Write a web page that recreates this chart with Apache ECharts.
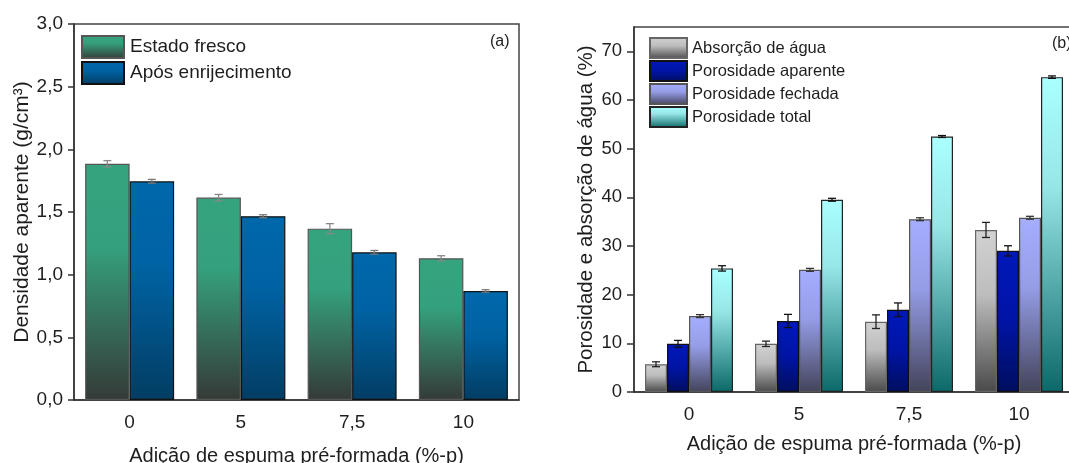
<!DOCTYPE html>
<html>
<head>
<meta charset="utf-8">
<script src="https://cdn.jsdelivr.net/npm/echarts@6/dist/echarts.min.js"></script>
<style>
html,body{margin:0;padding:0;background:#fff;}
#chart{width:1069px;height:463px;}
</style>
</head>
<body>
<div id="chart"></div>
<script>
// ---- Data ----
const categories = ['0', '5', '7,5', '10'];

// Panel (a): apparent density (g/cm³)
const densFresh = [1.885, 1.615, 1.367, 1.131];
const densFreshErr = [0.025, 0.025, 0.04, 0.02];
const densHard = [1.745, 1.466, 1.178, 0.870];
const densHardErr = [0.015, 0.012, 0.015, 0.01];

// Panel (b): porosity & water absorption (%)
const absorcao = [5.7, 9.9, 14.45, 33.3];
const absorcaoErr = [0.5, 0.55, 1.4, 1.55];
const porAparente = [9.9, 14.6, 16.9, 29.0];
const porAparenteErr = [0.7, 1.35, 1.4, 1.05];
const porFechada = [15.6, 25.1, 35.5, 35.8];
const porFechadaErr = [0.3, 0.3, 0.3, 0.3];
const porTotal = [25.4, 39.5, 52.5, 64.7];
const porTotalErr = [0.55, 0.3, 0.2, 0.25];

const yTicksA = [0, 0.5, 1, 1.5, 2, 2.5, 3];
const yTicksB = [0, 10, 20, 30, 40, 50, 60, 70];
const yMinorB = [5, 15, 25, 35, 45, 55, 65];

// ---- Helpers ----
const FONT = 'Liberation Sans, Arial, sans-serif';
const TXT = '#1e1e1e';
function grad(stops) {
  return {type: 'linear', x: 0, y: 0, x2: 0, y2: 1,
    colorStops: stops.map(s => ({offset: s[0], color: s[1]}))};
}
function makeErr(k, n, color) {
  return function (params, api) {
    const ci = api.value(0), v = api.value(1), e = api.value(2);
    const band = api.size([1, 0])[0];
    const bw = band * 0.8 / n;
    const c = api.coord([ci, v]);
    const x = c[0] - band * 0.4 + bw * (k + 0.5);
    const yt = api.coord([ci, v + e])[1];
    const yb = api.coord([ci, v - e])[1];
    const hw = 4;
    const st = {stroke: color, lineWidth: 1.3};
    return {type: 'group', children: [
      {type: 'line', shape: {x1: x, y1: yt, x2: x, y2: yb}, style: st},
      {type: 'line', shape: {x1: x - hw, y1: yt, x2: x + hw, y2: yt}, style: st},
      {type: 'line', shape: {x1: x - hw, y1: yb, x2: x + hw, y2: yb}, style: st}
    ]};
  };
}
function errData(vals, errs) {
  return vals.map((v, i) => [i, v, errs[i]]);
}
function barSeries(name, data, color, border, xi, yi) {
  return {
    name: name, type: 'bar', data: data, xAxisIndex: xi, yAxisIndex: yi,
    barGap: '0%', barCategoryGap: '20%',
    itemStyle: {color: color, borderColor: border, borderWidth: 1.2},
    emphasis: {disabled: true}, animation: false
  };
}
function errSeries(vals, errs, k, n, color, xi, yi) {
  return {
    type: 'custom', xAxisIndex: xi, yAxisIndex: yi, z: 5,
    data: errData(vals, errs), encode: {x: 0, y: 1},
    renderItem: makeErr(k, n, color), animation: false, silent: true
  };
}

const gFresh = grad([[0, '#36A37F'], [0.35, '#35A07D'], [1, '#353A37']]);
const gHard = grad([[0, '#0068AB'], [0.4, '#0062A2'], [1, '#023D63']]);
const gGray = grad([[0, '#D2D2D2'], [0.4, '#BDBDBD'], [1, '#4A4A4A']]);
const gBlue = grad([[0, '#0018BA'], [0.5, '#0014A4'], [1, '#000E5E']]);
const gLav = grad([[0, '#A5AEFF'], [0.4, '#959DE6'], [1, '#43435A']]);
const gCyan = grad([[0, '#AAFFFF'], [0.35, '#97E6E6'], [1, '#0C6868']]);

const axisLineStyle = {color: '#333', width: 1.5};

const chart = echarts.init(document.getElementById('chart'), null, {renderer: 'canvas'});
chart.setOption({
  animation: false,
  backgroundColor: '#fff',
  textStyle: {fontFamily: FONT, color: TXT},
  grid: [
    {left: 74, top: 24, width: 445, height: 376, outerBoundsMode: 'none', containLabel: false,
      show: true, borderColor: '#444', borderWidth: 1.5, backgroundColor: 'transparent'},
    {left: 634, top: 27, width: 440, height: 365, outerBoundsMode: 'none', containLabel: false,
      show: true, borderColor: '#444', borderWidth: 1.5, backgroundColor: 'transparent'}
  ],
  legend: [
    {
      data: ['Estado fresco', 'Após enrijecimento'], left: 81, top: 35, orient: 'vertical', padding: 0,
      itemWidth: 42, itemHeight: 22, itemGap: 2, icon: 'rect', selectedMode: false,
      textStyle: {fontFamily: FONT, fontSize: 19, color: TXT, padding: [0, 0, 0, 1]}
    },
    {
      data: ['Absorção de água', 'Porosidade aparente', 'Porosidade fechada', 'Porosidade total'],
      left: 649, top: 37, orient: 'vertical', padding: 0,
      itemWidth: 37, itemHeight: 20, itemGap: 1, icon: 'rect', selectedMode: false,
      textStyle: {fontFamily: FONT, fontSize: 16.5, color: TXT}
    }
  ],
  xAxis: [
    {
      type: 'category', gridIndex: 0, data: categories,
      name: 'Adição de espuma pré-formada (%-p)', nameLocation: 'middle', nameGap: 46,
      nameTextStyle: {fontSize: 20, color: TXT, fontFamily: FONT},
      axisLine: {lineStyle: axisLineStyle},
      axisTick: {alignWithLabel: true, length: 7, lineStyle: axisLineStyle},
      axisLabel: {fontSize: 19, color: TXT, margin: 13, fontFamily: FONT}
    },
    {
      type: 'category', gridIndex: 1, data: categories,
      name: 'Adição de espuma pré-formada (%-p)', nameLocation: 'middle', nameGap: 42,
      nameTextStyle: {fontSize: 20, color: TXT, fontFamily: FONT},
      axisLine: {lineStyle: axisLineStyle},
      axisTick: {alignWithLabel: true, length: 7, lineStyle: axisLineStyle},
      axisLabel: {fontSize: 19, color: TXT, margin: 13, fontFamily: FONT}
    }
  ],
  yAxis: [
    {
      type: 'value', gridIndex: 0, min: 0, max: 3, interval: 0.5,
      name: 'Densidade aparente (g/cm³)', nameLocation: 'middle', nameGap: 41,
      nameTextStyle: {fontSize: 21, color: TXT, fontFamily: FONT},
      axisLine: {show: true, lineStyle: axisLineStyle},
      axisTick: {show: true, length: 6, lineStyle: axisLineStyle},
      splitLine: {show: false},
      axisLabel: {fontSize: 19, color: TXT, margin: 11, fontFamily: FONT,
        formatter: v => v.toFixed(1).replace('.', ',')}
    },
    {
      type: 'value', gridIndex: 1, min: 0, max: 75, interval: 10,
      name: 'Porosidade e absorção de água (%)', nameLocation: 'middle', nameGap: 37,
      nameTextStyle: {fontSize: 20.5, color: TXT, fontFamily: FONT},
      axisLine: {show: true, lineStyle: axisLineStyle},
      axisTick: {show: true, length: 7, lineStyle: axisLineStyle, customValues: yTicksB},
      splitLine: {show: false},
      axisLabel: {fontSize: 18.5, color: TXT, margin: 12, fontFamily: FONT, customValues: yTicksB}
    },
    {
      type: 'value', gridIndex: 1, min: 0, max: 75, interval: 5,
      axisLine: {show: false},
      axisTick: {show: true, length: 4, lineStyle: axisLineStyle, customValues: yMinorB},
      axisLabel: {show: false},
      splitLine: {show: false}
    }
  ],
  series: [
    barSeries('Estado fresco', densFresh, gFresh, '#555', 0, 0),
    barSeries('Após enrijecimento', densHard, gHard, '#111', 0, 0),
    errSeries(densFresh, densFreshErr, 0, 2, '#888', 0, 0),
    errSeries(densHard, densHardErr, 1, 2, '#777', 0, 0),
    barSeries('Absorção de água', absorcao, gGray, '#666', 1, 1),
    barSeries('Porosidade aparente', porAparente, gBlue, '#111', 1, 1),
    barSeries('Porosidade fechada', porFechada, gLav, '#555', 1, 1),
    barSeries('Porosidade total', porTotal, gCyan, '#222', 1, 1),
    errSeries(absorcao, absorcaoErr, 0, 4, '#222', 1, 1),
    errSeries(porAparente, porAparenteErr, 1, 4, '#111', 1, 1),
    errSeries(porFechada, porFechadaErr, 2, 4, '#333', 1, 1),
    errSeries(porTotal, porTotalErr, 3, 4, '#111', 1, 1)
  ],
  graphic: [
    {type: 'text', left: 490, top: 34, style: {text: '(a)', fontSize: 16, fill: TXT, fontFamily: FONT}},
    {type: 'text', left: 1052, top: 36, style: {text: '(b)', fontSize: 16, fill: TXT, fontFamily: FONT}}
  ]
});
</script>
</body>
</html>
